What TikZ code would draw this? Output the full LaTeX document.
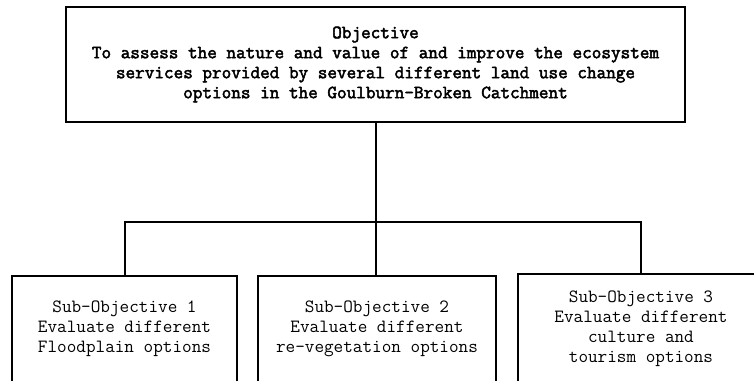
\documentclass[tikz,border=0pt]{standalone}
\usepackage{fontspec}
\newfontfamily\objfont[FakeBold=2.5]{Latin Modern Mono}
\begin{document}
\begin{tikzpicture}[x=0.75pt,y=-0.75pt,
  objbox/.style={draw,line width=1.5pt,shape=rectangle,align=center,inner sep=0pt,
    font=\objfont\fontsize{14}{15}\selectfont},
  subbox/.style={draw,line width=1.5pt,shape=rectangle,align=center,inner sep=0pt,
    font=\ttfamily\fontsize{14}{15}\selectfont},
  link/.style={line width=1.5pt}]
  \useasboundingbox (0,0) rectangle (754,381);
  \clip (0,0) rectangle (754,381);
  %\draw[step=50,gray,very thin] (0,0) grid (754,381);
  \node[objbox,minimum width=464pt,minimum height=86pt] (Obj) at (375.5,64.5)
    {Objective\\To assess the nature and value of and improve the ecosystem\\
     services provided by several different land use change\\
     options in the Goulburn-Broken Catchment};
  \node[subbox,minimum width=169pt,minimum height=79.5pt] (Sub1) at (124.5,329)
    {Sub-Objective 1\\Evaluate different\\Floodplain options};
  \node[subbox,minimum width=178.5pt,minimum height=79.5pt] (Sub2) at (377,329)
    {Sub-Objective 2\\Evaluate different\\re-vegetation options};
  \node[subbox,minimum width=184.5pt,minimum height=82.5pt] (Sub3) at (641,329)
    {Sub-Objective 3\\Evaluate different\\culture and\\tourism options};
  \coordinate (Bus) at (375,222);
  \draw[link] (Obj.south) -- (Obj.south |- Sub2.north);
  \draw[link] (Sub1.north) |- (Bus) -| (Sub3.north);
\end{tikzpicture}
\end{document}
